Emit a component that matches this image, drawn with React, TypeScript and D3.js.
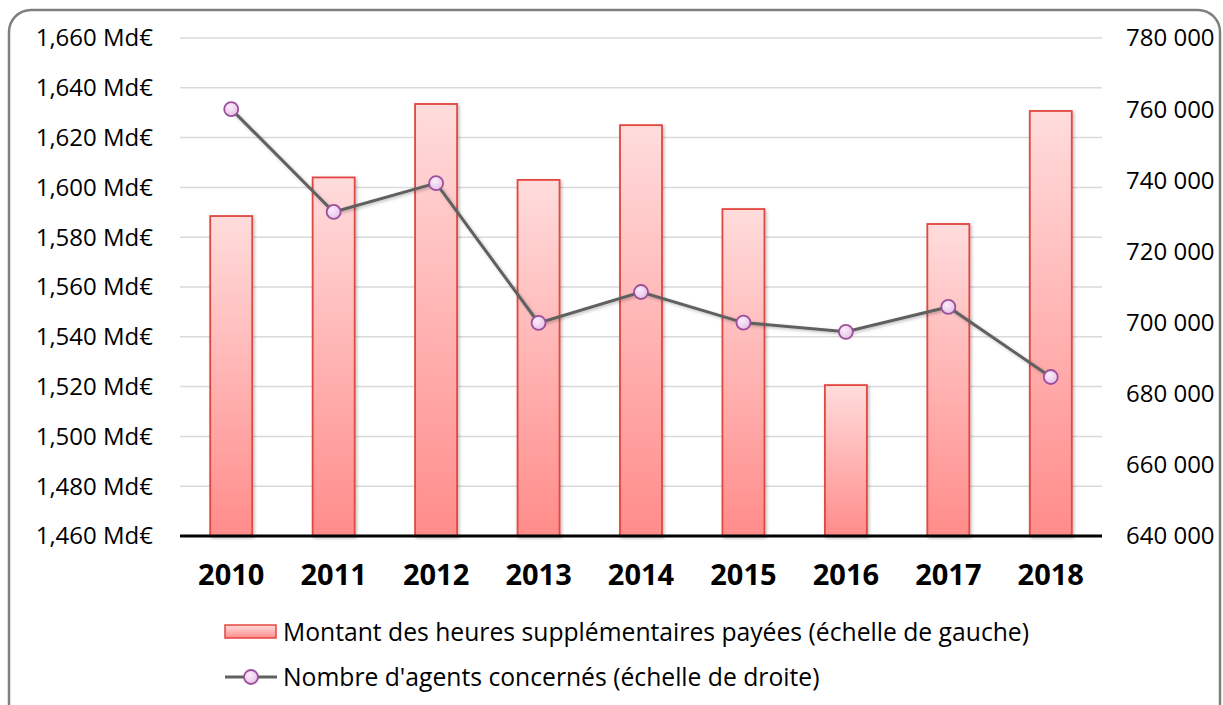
import React from 'react';
import * as d3 from 'd3';

const years = ['2010', '2011', '2012', '2013', '2014', '2015', '2016', '2017', '2018'];
// montant des heures supplémentaires (Md€, échelle de gauche)
const montants = [1588.5, 1604, 1633.5, 1603, 1625, 1591.3, 1520.6, 1585.3, 1630.7];
// nombre d'agents concernés (échelle de droite)
const agents = [760000, 731100, 739200, 699900, 708600, 700000, 697400, 704400, 684700];
const leftTicks = [1460, 1480, 1500, 1520, 1540, 1560, 1580, 1600, 1620, 1640, 1660];
const rightTicks = [640000, 660000, 680000, 700000, 720000, 740000, 760000, 780000];

const W = 1223;
const H = 705;
const font = "'Open Sans', 'Noto Sans', sans-serif";

export default function App() {
  const margin = { left: 180, right: 121, top: 38, bottom: 169 };
  const x = d3
    .scaleBand<string>()
    .domain(years)
    .range([margin.left, W - margin.right])
    .paddingInner(0.59)
    .paddingOuter(0.295);
  const yL = d3.scaleLinear().domain([1460, 1660]).range([H - margin.bottom, margin.top]);
  const yR = d3.scaleLinear().domain([640000, 780000]).range([H - margin.bottom, margin.top]);

  const fmtL = (v: number) => d3.format(',')(v) + ' Md€';
  const fmtR = (v: number) => d3.format(',')(v).replace(/,/g, ' ');

  const line = d3
    .line<number>()
    .x((_, i) => x(years[i])! + x.bandwidth() / 2)
    .y((d) => yR(d));

  const baseY = yL(1460);

  return (
    <svg width={W} height={H} style={{ position: 'absolute', left: 0, top: 0 }} fontFamily={font}>
      <defs>
        <linearGradient id="barGrad" x1="0" y1="0" x2="0" y2="1">
          <stop offset="0" stopColor="#ffdcdc" />
          <stop offset="1" stopColor="#ff8c8a" />
        </linearGradient>
        <radialGradient id="dotGrad" cx="0.4" cy="0.35" r="0.7">
          <stop offset="0" stopColor="#fbeefb" />
          <stop offset="1" stopColor="#e6bde6" />
        </radialGradient>
        <filter id="shadow" x="-20%" y="-20%" width="140%" height="140%">
          <feDropShadow dx="1.5" dy="1.5" stdDeviation="1.5" floodColor="#000" floodOpacity="0.25" />
        </filter>
      </defs>
      <rect x={9} y={10} width={1211} height={720} rx={22} ry={22} fill="#fff" stroke="#7f7f7f" strokeWidth={2.5} />

      {leftTicks.map((t) => (
        <g key={t}>
          {t !== 1460 && (
            <line x1={margin.left} x2={W - margin.right} y1={yL(t)} y2={yL(t)} stroke="#d9d9d9" strokeWidth={1.5} />
          )}
          <text x={153} y={yL(t)} dy="0.35em" textAnchor="end" fontSize={24} fill="#000">
            {fmtL(t)}
          </text>
        </g>
      ))}
      {rightTicks.map((t) => (
        <text key={t} x={1126} y={yR(t)} dy="0.35em" textAnchor="start" fontSize={24} fill="#000">
          {fmtR(t)}
        </text>
      ))}

      {montants.map((v, i) => (
        <rect
          key={years[i]}
          x={x(years[i])}
          y={yL(v)}
          width={x.bandwidth()}
          height={baseY - yL(v)}
          fill="url(#barGrad)"
          stroke="#e2463f"
          strokeWidth={1.8}
          filter="url(#shadow)"
        />
      ))}

      <line x1={margin.left} x2={W - margin.right} y1={baseY} y2={baseY} stroke="#000" strokeWidth={3} />

      {years.map((yr) => (
        <text key={yr} x={x(yr)! + x.bandwidth() / 2} y={575} dy="0.35em" textAnchor="middle" fontSize={29} fontWeight="bold">
          {yr}
        </text>
      ))}

      <path d={line(agents) ?? ''} fill="none" stroke="#606060" strokeWidth={3} filter="url(#shadow)" />
      {agents.map((v, i) => (
        <circle
          key={years[i]}
          cx={x(years[i])! + x.bandwidth() / 2}
          cy={yR(v)}
          r={7}
          fill="url(#dotGrad)"
          stroke="#9b4f9b"
          strokeWidth={1.8}
        />
      ))}

      {/* légende */}
      <rect x={225} y={625} width={51} height={13} fill="url(#barGrad)" stroke="#e2463f" strokeWidth={1.5} />
      <text x={283} y={632} dy="0.35em" fontSize={24.7}>
        Montant des heures supplémentaires payées (échelle de gauche)
      </text>
      <line x1={225} x2={277} y1={677} y2={677} stroke="#606060" strokeWidth={3} />
      <circle cx={251} cy={677} r={7} fill="url(#dotGrad)" stroke="#9b4f9b" strokeWidth={1.8} />
      <text x={283} y={677} dy="0.35em" fontSize={24.7}>
        Nombre d'agents concernés (échelle de droite)
      </text>
    </svg>
  );
}
